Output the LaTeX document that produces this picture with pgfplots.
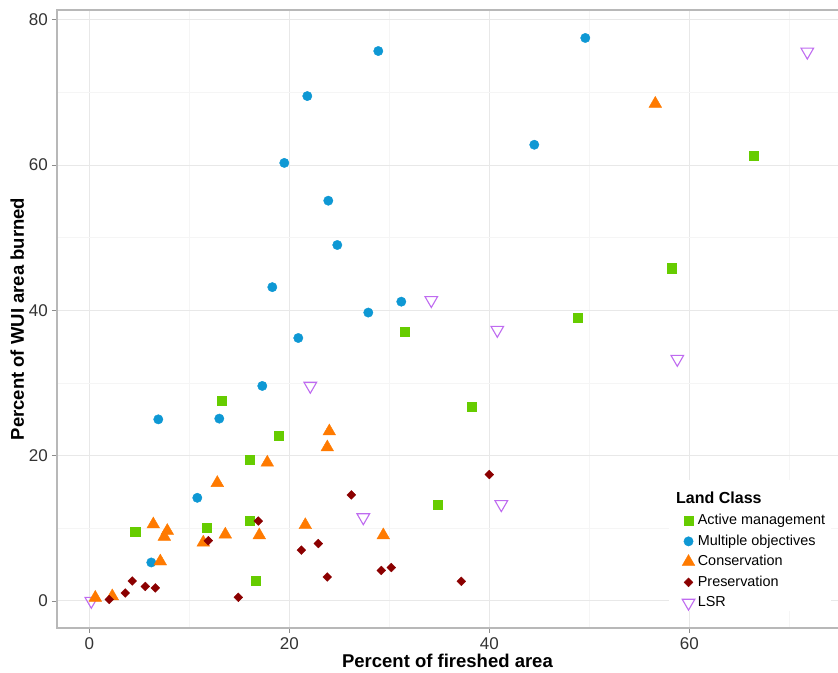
\documentclass[border=0pt]{standalone}
\usepackage{pgfplots}
\pgfplotsset{compat=1.18}
\usepackage{fontspec}
\setmainfont{Liberation Sans}
\definecolor{cAM}{HTML}{66CC00}
\definecolor{cMO}{HTML}{0E98D4}
\definecolor{cCO}{HTML}{FF7A00}
\definecolor{cPR}{HTML}{8B0000}
\definecolor{cLS}{HTML}{BF6BF0}
\pgfplotsset{
  mylegimg/.style={legend image code/.code={\path[draw=none,fill=none] (-6pt,-6pt) rectangle (6pt,6pt);\draw[##1] plot coordinates {(0pt,0pt)};}},
  sAM/.style={only marks, mark=square*, mark size=4.6pt, color=cAM, mylegimg},
  sMO/.style={only marks, mark=*, mark size=4.7pt, color=cMO, mylegimg},
  sCO/.style={only marks, mark=triangle*, mark size=7.3pt, color=cCO, mylegimg},
  sPR/.style={only marks, mark=square*, mark size=3.1pt, color=cPR, mark options={rotate=45}, mylegimg},
  sLS/.style={only marks, mark=triangle, mark size=7.3pt, color=cLS, mark options={rotate=180, line width=1.1pt}, mylegimg},
}
\begin{document}
\begin{tikzpicture}
\begin{axis}[
  at={(0,0)}, anchor=south west,
  scale only axis, width=781pt, height=618pt,
  xmin=-3.23, xmax=74.87, ymin=-3.72, ymax=81.35,
  xtick={0,20,40,60}, ytick={0,20,40,60,80},
  minor xtick={10,30,50,70}, minor ytick={10,30,50,70},
  grid=both,
  major grid style={color=black!9, line width=1pt},
  minor grid style={color=black!4, line width=0.8pt},
  axis line style={draw=none},
  tick align=outside,
  xtick pos=bottom, ytick pos=left,
  major tick length=5pt, minor tick length=0pt,
  tick style={color=black!45, line width=0.9pt},
  /pgf/number format/assume math mode=true,
  ticklabel style={font=\fontsize{17}{17}\selectfont, color=black!80},
  xticklabel style={anchor=base, yshift=-17pt},
  yticklabel style={anchor=east, inner sep=0pt, xshift=-4pt},
  xlabel={\textbf{Percent of fireshed area}},
  ylabel={\textbf{Percent of WUI area burned}},
  label style={font=\fontsize{18.5}{18.5}\selectfont},
  xlabel style={at={(axis description cs:0.5,-0.0647)}, anchor=base},
  ylabel style={at={(axis description cs:-0.04225,0.5)}, anchor=base},
  legend cell align=left,
  legend style={at={(axis cs:59.27,12.12)}, anchor=north west, draw=none, fill=white,
    inner sep=0pt, font=\fontsize{14.4}{16}\selectfont, row sep=5pt, column sep=2pt,
    nodes={inner sep=1pt, text height=10.5pt, text depth=3pt}},
]
\fill[white] (axis cs:58,16.6) rectangle (axis cs:74.2,-1.3);
% LSR drawn first (below others)
\addplot[sLS, forget plot] coordinates {
(0.2,0.0) (22.1,29.6) (27.4,11.5) (34.2,41.4) (40.8,37.3) (41.2,13.3) (58.8,33.3) (71.8,75.6)
};
\addplot[sAM] coordinates {
(4.6,9.5) (11.7,10.1) (13.2,27.6) (16.0,19.4) (16.0,11.0) (16.6,2.75) (18.9,22.8)
(31.5,37.1) (48.8,39.0) (58.2,45.8) (66.4,61.3) (38.2,26.7) (34.8,13.2)
};
\addlegendentry{Active management}
\addplot[sMO] coordinates {
(6.2,5.3) (6.9,25.0) (10.8,14.2) (13.0,25.1) (17.3,29.6) (20.9,36.2) (18.3,43.2)
(19.5,60.3) (21.8,69.5) (23.9,55.1) (24.8,49.0) (28.9,75.7) (27.9,39.7) (31.2,41.2)
(49.6,77.5) (44.5,62.8)
};
\addlegendentry{Multiple objectives}
\addplot[sCO] coordinates {
(0.6,0.45) (2.3,0.65) (6.4,10.55) (7.1,5.45) (7.8,9.65) (7.5,8.85) (11.4,8.05)
(12.8,16.25) (13.6,9.15) (17.0,9.05) (17.8,19.05) (21.6,10.45) (24.0,23.35)
(23.8,21.15) (29.4,9.05) (56.6,68.45)
};
\addlegendentry{Conservation}
\addplot[sPR] coordinates {
(2.0,0.2) (3.6,1.1) (4.3,2.75) (5.6,2.0) (6.6,1.8) (11.9,8.3) (14.9,0.5) (16.9,11.0)
(21.2,7.0) (22.9,7.9) (23.8,3.3) (26.2,14.6) (29.2,4.2) (30.2,4.6) (40.0,17.4) (37.2,2.7)
};
\addlegendentry{Preservation}
\addlegendimage{sLS}
\addlegendentry{LSR}
\node[anchor=base west, font=\fontsize{16}{16}\selectfont\bfseries, inner sep=0pt] at (axis cs:58.67,13.4) {Land Class};
\end{axis}
\draw[black!28, line width=1.3pt] (current axis.north east) -- (current axis.north west) -- (current axis.south west) -- (current axis.south east);
\pgfresetboundingbox
\path ([shift={(-57pt,-45pt)}]current axis.south west) rectangle ([shift={(0pt,10pt)}]current axis.north east);
\end{tikzpicture}
\end{document}
